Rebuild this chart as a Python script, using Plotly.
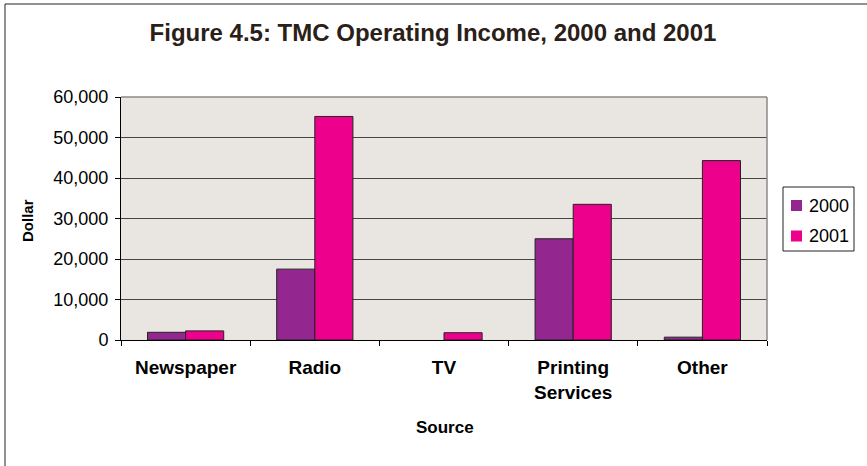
import plotly.graph_objects as go

categories = ["Newspaper", "Radio", "TV", "Printing<br>Services", "Other"]
series_names = ["2000", "2001"]
income_2000 = [1900, 17500, 0, 25000, 700]
income_2001 = [2250, 55200, 1800, 33500, 44300]
y_ticks = [0, 10000, 20000, 30000, 40000, 50000, 60000]
y_tick_labels = ["0", "10,000", "20,000", "30,000", "40,000", "50,000", "60,000"]
colors = ["#93278F", "#EC008C"]

FONT = "Arial, 'Liberation Sans', sans-serif"
W, H = 867, 466
L, R, T, B = 121, 100, 97, 126
pw, ph = W - L - R, H - T - B


def px(x):
    return (x - L) / pw


def py(y):
    return (H - B - y) / ph


fig = go.Figure()
for name, vals, col in zip(series_names, [income_2000, income_2001], colors):
    fig.add_trace(go.Bar(
        name=name, x=categories, y=vals,
        marker=dict(color=col,
                    line=dict(color="#222222",
                              width=[1 if v > 0 else 0 for v in vals])),
        showlegend=False))

fig.update_layout(
    width=W, height=H,
    margin=dict(l=L, r=R, t=T, b=B, autoexpand=False),
    paper_bgcolor="white",
    plot_bgcolor="#E9E5E0",
    barmode="group",
    bargap=0.41,
    bargroupgap=0,
    font=dict(family=FONT, color="black"),
    title=dict(text="<b>Figure 4.5: TMC Operating Income, 2000 and 2001</b>",
               x=433 / W, xref="container", xanchor="center",
               y=1 - 33 / H, yanchor="middle",
               font=dict(size=24, color="#2a2018", family=FONT)),
    xaxis=dict(
        type="category",
        showline=True, linecolor="black", linewidth=1,
        ticks="outside", tickson="boundaries", ticklen=5, tickcolor="black",
        tickfont=dict(size=19, family=FONT),
        ticklabelstandoff=10,
        showgrid=False,
        tickvals=categories, ticktext=["<b>%s</b>" % c for c in categories],
    ),
    yaxis=dict(
        range=[0, 60000],
        tickvals=y_ticks, ticktext=y_tick_labels,
        showline=True, linecolor="black", linewidth=1,
        ticks="outside", ticklen=5, tickcolor="black",
        tickfont=dict(size=18, family=FONT),
        ticklabelstandoff=3,
        showgrid=True, gridcolor="#454545", gridwidth=1,
        zeroline=False,
    ),
)

# axis titles
fig.add_annotation(text="<b>Source</b>", xref="paper", yref="paper",
                   x=px(445), y=py(427), xanchor="center", yanchor="middle",
                   showarrow=False, font=dict(size=17, family=FONT))
fig.add_annotation(text="<b>Dollar</b>", xref="paper", yref="paper",
                   x=px(27), y=py(221), xanchor="center", yanchor="middle",
                   textangle=-90, showarrow=False, font=dict(size=15, family=FONT))

# gray frame on top/right of plot area
fig.add_shape(type="line", xref="paper", yref="paper", x0=0, x1=1, y0=1, y1=1,
              line=dict(color="#8a8a8a", width=1.5))
fig.add_shape(type="line", xref="paper", yref="paper", x0=1, x1=1, y0=0, y1=1,
              line=dict(color="#8a8a8a", width=1.5))

# legend box
fig.add_shape(type="rect", xref="paper", yref="paper",
              x0=px(783), x1=px(854), y0=py(251), y1=py(187),
              line=dict(color="#222222", width=1), fillcolor="white")
for i, (name, col) in enumerate(zip(series_names, colors)):
    yc = 205.5 + i * 30.5
    fig.add_shape(type="rect", xref="paper", yref="paper",
                  x0=px(791), x1=px(802), y0=py(yc + 5.5), y1=py(yc - 5.5),
                  line=dict(width=0), fillcolor=col)
    fig.add_annotation(text=name, xref="paper", yref="paper",
                       x=px(807), y=py(yc), xanchor="left", yanchor="middle",
                       showarrow=False, font=dict(size=18, family=FONT))

# outer chart border (left and top visible)
fig.add_shape(type="rect", xref="paper", yref="paper",
              x0=px(5), x1=px(900), y0=py(500), y1=py(4),
              line=dict(color="#222222", width=1), layer="above")

fig.write_html("out.html")
